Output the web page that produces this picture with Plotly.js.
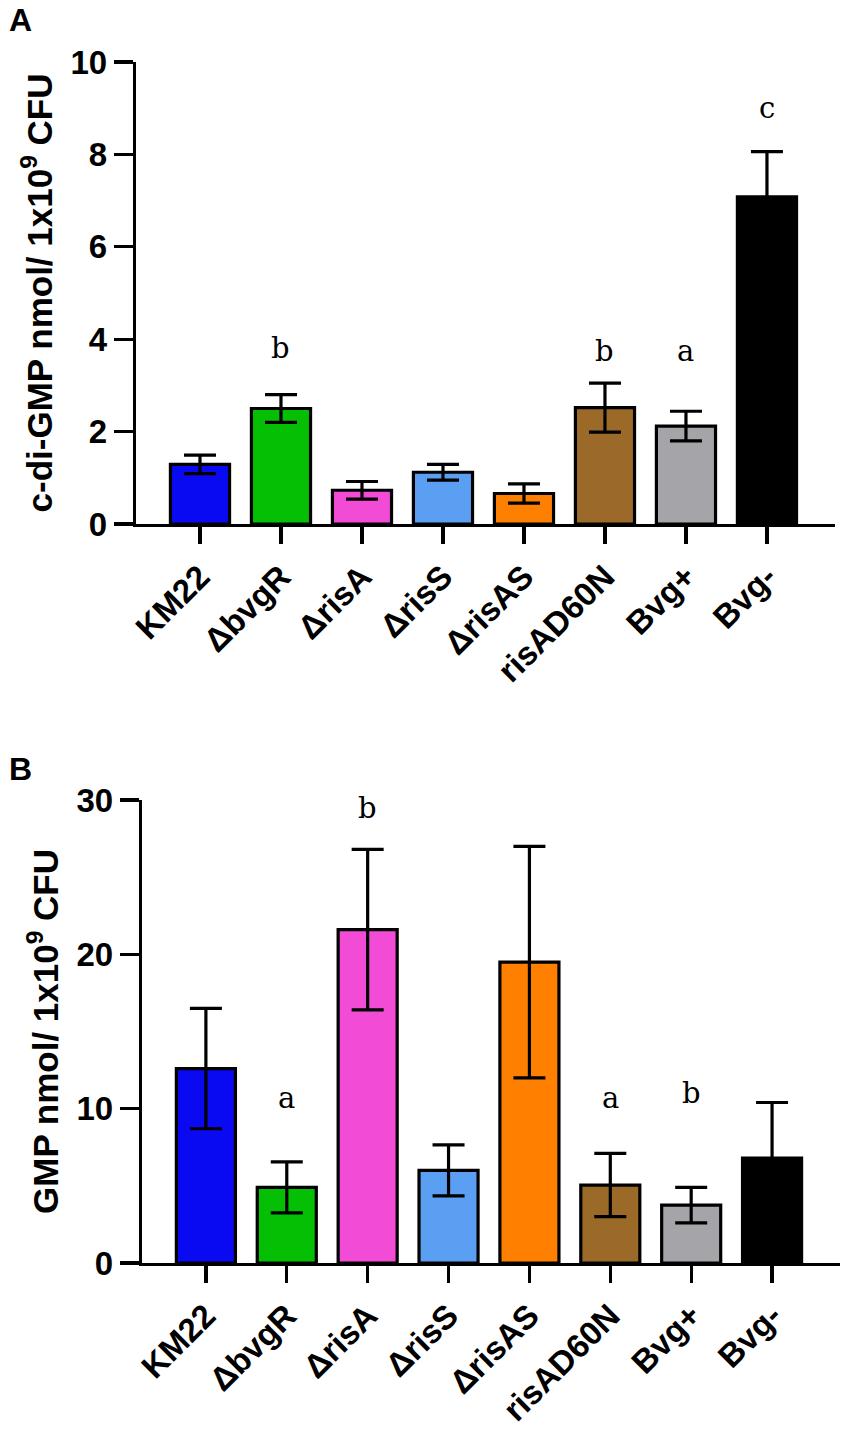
<!DOCTYPE html>
<html>
<head>
<meta charset="utf-8">
<script src="https://cdn.plot.ly/plotly-3.0.1.min.js"></script>
<style>html,body{margin:0;padding:0;background:#fff;}#chart{width:853px;height:1436px;}</style>
</head>
<body>
<div id="chart"></div>
<script>
// ---- data ----
const categories = ['KM22', 'ΔbvgR', 'ΔrisA', 'ΔrisS', 'ΔrisAS', 'risAD60N', 'Bvg+', 'Bvg-'];
const barColors = ['#0a0af2', '#05bf05', '#f24bd6', '#5b9ff2', '#ff8000', '#9c6a28', '#a5a5a9', '#000000'];

const cdiGMPMean = [1.29, 2.50, 0.73, 1.12, 0.66, 2.52, 2.12, 7.08];
const cdiGMPSD   = [0.20, 0.30, 0.19, 0.17, 0.21, 0.53, 0.32, 0.98];
const cdiGMPLetters = ['', 'b', '', '', '', 'b', 'a', 'c'];
const cdiGMPLetterY = [null, 3.8, null, null, null, 3.75, 3.75, 9.0];

const gmpMean = [12.6, 4.9, 21.6, 6.0, 19.5, 5.05, 3.75, 6.8];
const gmpSD   = [3.9, 1.65, 5.2, 1.65, 7.5, 2.05, 1.15, 3.6];
const gmpLetters = ['', 'a', 'b', '', '', 'a', 'b', ''];
const gmpLetterY = [null, 10.7, 29.5, null, null, 10.7, 11.0, null];

const yTicksA = [0, 2, 4, 6, 8, 10];
const yTicksB = [0, 10, 20, 30];

// ---- layout helpers ----
const W = 853, H = 1436;
const M = {l: 100, r: 10, t: 40, b: 150};
const PW = W - M.l - M.r, PH = H - M.t - M.b;
function xdom(a, b) { return [(a - M.l) / PW, (b - M.l) / PW]; }
function ydom(top, bottom) { return [(H - M.b - bottom) / PH, (H - M.b - top) / PH]; }

const sans = 'Liberation Sans, Arial, sans-serif';
const serif = 'DejaVu Serif, Liberation Serif, serif';

function barTrace(vals, sds, xa, ya) {
  return {
    type: 'bar', x: categories, y: vals, xaxis: xa, yaxis: ya,
    width: 0.73,
    marker: {color: barColors, line: {color: '#000', width: 3.2}},
    error_y: {type: 'data', array: sds, visible: true, color: '#000', thickness: 3.2, width: 16},
    showlegend: false, hoverinfo: 'x+y'
  };
}

const data = [
  barTrace(cdiGMPMean, cdiGMPSD, 'x', 'y'),
  barTrace(gmpMean, gmpSD, 'x2', 'y2')
];

function xAxis(dom, anchor) {
  return {
    domain: dom, anchor: anchor, type: 'category', range: [-0.79, 7.84],
    showline: true, linecolor: '#000', linewidth: 3.2,
    ticks: 'outside', ticklen: 17, tickwidth: 3.2, tickcolor: '#000',
    tickangle: -45, showgrid: false, zeroline: false,
    tickfont: {family: sans, size: 33, color: '#000', weight: 'bold'},
    automargin: false, fixedrange: true
  };
}
function yAxis(dom, anchor, range, ticks, title) {
  return {
    domain: dom, anchor: anchor, range: range, tickvals: ticks,
    showline: true, linecolor: '#000', linewidth: 3.2,
    ticks: 'outside', ticklen: 19, tickwidth: 3.2, tickcolor: '#000',
    showgrid: false, zeroline: false,
    tickfont: {family: sans, size: 33, color: '#000', weight: 'bold'},
    title: {text: title, font: {family: sans, size: 35, color: '#000', weight: 'bold'}, standoff: 8},
    automargin: true, fixedrange: true
  };
}

const annotations = [];
function addLetters(letters, ys, xref, yref) {
  letters.forEach((t, i) => {
    if (!t) return;
    annotations.push({x: categories[i], y: ys[i], xref: xref, yref: yref, text: t, showarrow: false,
      font: {family: serif, size: 29, color: '#000'}});
  });
}
addLetters(cdiGMPLetters, cdiGMPLetterY, 'x', 'y');
addLetters(gmpLetters, gmpLetterY, 'x2', 'y2');
annotations.push({xref: 'paper', yref: 'paper', x: (7 - M.l) / PW, y: (H - M.b - 20) / PH, xanchor: 'left', yanchor: 'middle',
  text: 'A', showarrow: false, font: {family: sans, size: 32, color: '#000', weight: 'bold'}});
annotations.push({xref: 'paper', yref: 'paper', x: (7 - M.l) / PW, y: (H - M.b - 769) / PH, xanchor: 'left', yanchor: 'middle',
  text: 'B', showarrow: false, font: {family: sans, size: 32, color: '#000', weight: 'bold'}});

const layout = {
  width: W, height: H, margin: M,
  paper_bgcolor: '#fff', plot_bgcolor: '#fff',
  xaxis: xAxis(xdom(136, 835), 'y'),
  yaxis: yAxis(ydom(62, 524), 'x', [0, 10], yTicksA, 'c-di-GMP nmol/ 1x10<sup>9</sup> CFU'),
  xaxis2: xAxis(xdom(142, 840), 'y2'),
  yaxis2: yAxis(ydom(800, 1263), 'x2', [0, 30], yTicksB, 'GMP nmol/ 1x10<sup>9</sup> CFU'),
  annotations: annotations,
  showlegend: false
};

Plotly.newPlot('chart', data, layout, {staticPlot: true, displayModeBar: false});
</script>
</body>
</html>
